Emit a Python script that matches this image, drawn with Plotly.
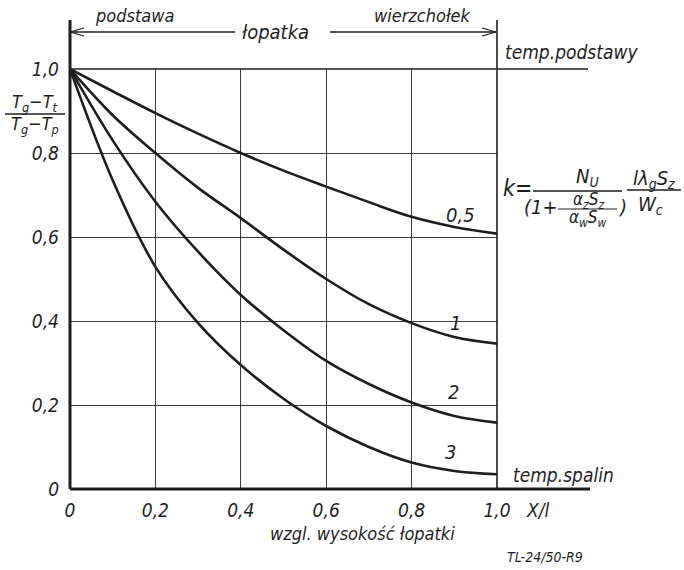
import plotly.graph_objects as go

# ---- data ----
x_rel = [0.0, 0.1, 0.2, 0.3, 0.4, 0.5, 0.6, 0.7, 0.8, 0.9, 1.0]
k_05 = [1.0, 0.947, 0.895, 0.846, 0.800, 0.758, 0.720, 0.683, 0.648, 0.624, 0.608]
k_1 = [1.0, 0.890, 0.800, 0.717, 0.645, 0.570, 0.500, 0.440, 0.395, 0.362, 0.346]
k_2 = [1.0, 0.830, 0.684, 0.565, 0.462, 0.378, 0.305, 0.250, 0.206, 0.174, 0.158]
k_3 = [1.0, 0.735, 0.529, 0.395, 0.295, 0.215, 0.150, 0.100, 0.063, 0.043, 0.035]
curve_labels = ["0,5", "1", "2", "3"]
tick_vals = [0, 0.2, 0.4, 0.6, 0.8, 1.0]
tick_text = ["0", "0,2", "0,4", "0,6", "0,8", "1,0"]

FONT = "Liberation Sans Narrow, DejaVu Sans Condensed, DejaVu Sans, sans-serif"
INK = "#1e1e1e"

W, H = 684, 570
L, R, T, B = 70, 187, 69, 81
PW, PH = W - L - R, H - T - B


def px(x):
    return (x - L) / PW


def py(y):
    return (H - B - y) / PH


fig = go.Figure()
for ys in [k_05, k_1, k_2, k_3]:
    fig.add_trace(go.Scatter(x=x_rel, y=ys, mode="lines",
                             line=dict(color=INK, width=2.6, shape="spline", smoothing=1.0),
                             showlegend=False, hoverinfo="skip"))

shapes = []


def seg(x0, y0, x1, y1, w=1.3):
    shapes.append(dict(type="line", xref="paper", yref="paper", x0=px(x0), x1=px(x1),
                       y0=py(y0), y1=py(y1), line=dict(color=INK, width=w)))

# axis lines and extended frame lines
seg(70, 489, 70, 20, 3)
seg(497, 489, 497, 20, 1.6)
seg(70, 489, 590, 489, 3)
seg(70, 69, 588, 69, 1.6)
# fraction bars
seg(5, 114, 65, 114)
seg(533, 191, 622, 191)
seg(558, 209, 617, 209, 1.1)
seg(627, 190, 681, 190)
# header arrows
seg(70, 32, 235, 32)
seg(70, 32, 84, 28)
seg(70, 32, 84, 36)
seg(330, 32, 496, 32)
seg(496, 32, 482, 28)
seg(496, 32, 482, 36)

ann = []


def txt(s, x, y, size=18):
    ann.append(dict(text=s, xref="paper", yref="paper", x=px(x), y=py(y), showarrow=False,
                    xanchor="center", yanchor="middle",
                    font=dict(family=FONT, size=size, color=INK, style="italic")))

# header
txt("podstawa", 134, 15, 18)
txt("łopatka", 275, 32, 20)
txt("wierzchołek", 422, 15, 18)
txt("temp.podstawy", 571, 52, 19)
txt("temp.spalin", 563, 475, 19)

# y title
txt("T<sub>g</sub>−T<sub>t</sub>", 35, 103, 18)
txt("T<sub>g</sub>−T<sub>p</sub>", 35, 125, 18)

# formula
txt("k=", 517, 188, 23)
txt("N<sub>U</sub>", 587, 177, 20)
txt("(1+", 541, 207, 20)
txt("α<sub>z</sub>S<sub>z</sub>", 588, 200, 17)
txt("α<sub>w</sub>S<sub>w</sub>", 588, 219, 17)
txt(")", 622, 207, 20)
txt("lλ<sub>g</sub>S<sub>z</sub>", 654, 179, 20)
txt("W<sub>c</sub>", 650, 205, 20)

# curve labels
for lab, (lx, ly) in zip(curve_labels, [(460, 215), (455, 323), (453, 392), (450, 452)]):
    txt(lab, lx, ly, 20)

# x axis extras
txt("X/l", 537, 510, 19)
txt("wzgl. wysokość łopatki", 362, 533, 18)
txt("TL-24/50-R9", 545, 557, 14)

axis_font = dict(family=FONT, size=19, color=INK, style="italic")
fig.update_layout(
    width=W, height=H,
    margin=dict(l=L, r=R, t=T, b=B),
    paper_bgcolor="white", plot_bgcolor="white",
    shapes=shapes, annotations=ann,
    xaxis=dict(range=[0, 1], tickvals=tick_vals, ticktext=tick_text, showgrid=True,
               gridcolor="#3a3a3a", gridwidth=1.3, zeroline=False, showline=False,
               ticks="", tickfont=axis_font, ticklabelstandoff=8),
    yaxis=dict(range=[0, 1], tickvals=tick_vals, ticktext=tick_text, showgrid=True,
               gridcolor="#3a3a3a", gridwidth=1.3, zeroline=False, showline=False,
               ticks="", tickfont=axis_font, ticklabelstandoff=10),
)

fig.write_html("out.html")
